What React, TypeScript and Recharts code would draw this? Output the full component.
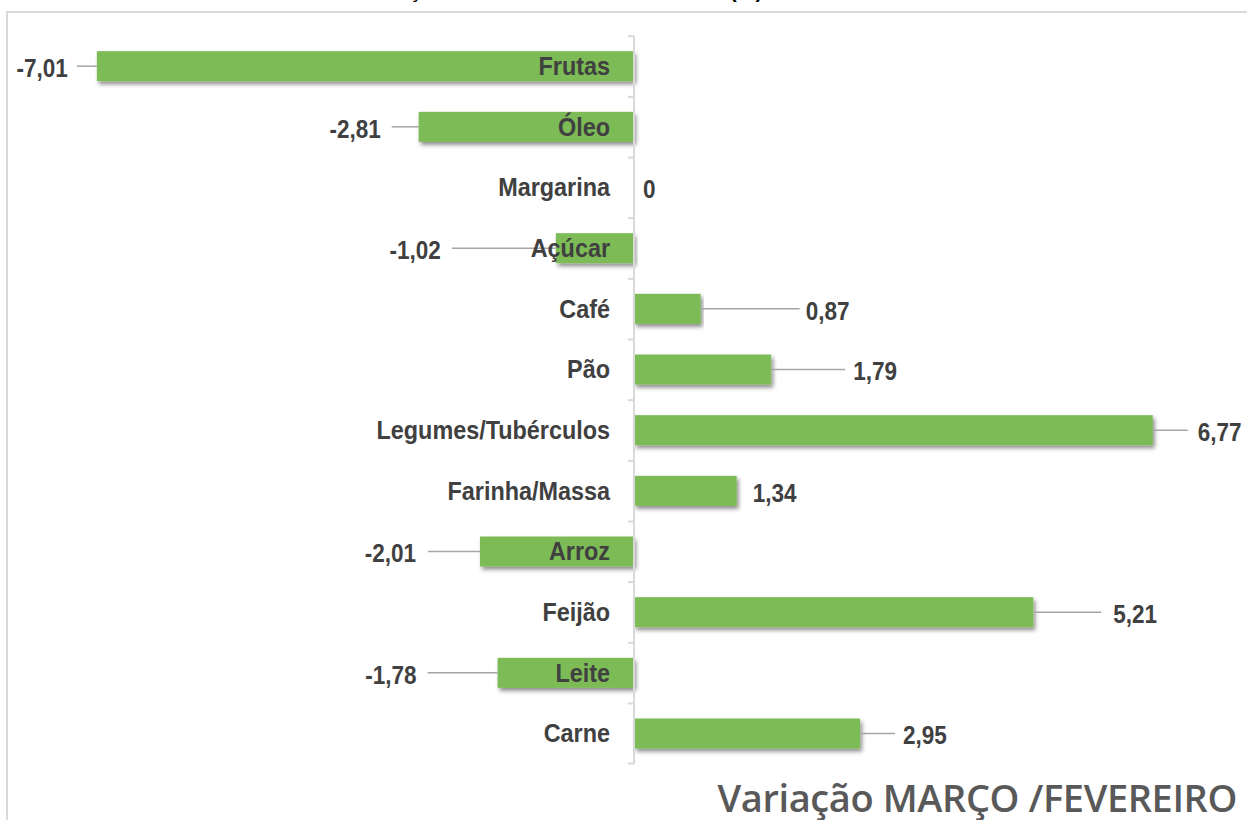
import { BarChart, Bar, XAxis, YAxis, ReferenceLine } from "recharts";

const categories = [
  "Frutas",
  "Óleo",
  "Margarina",
  "Açúcar",
  "Café",
  "Pão",
  "Legumes/Tubérculos",
  "Farinha/Massa",
  "Arroz",
  "Feijão",
  "Leite",
  "Carne",
];
const variation = [-7.01, -2.81, 0, -1.02, 0.87, 1.79, 6.77, 1.34, -2.01, 5.21, -1.78, 2.95];

// where the data labels were dragged to (px from the bar end) and their leader lines
const labelOffset = [29, 38, 9, 115, 105, 82, 45, 16, 64, 80, 81, 43];
const leaderLen = [20, 27, 0, 104, 99, 74, 35, 0, 52, 68, 70, 35];

const xDomain = [-8, 8];

const data = categories.map((name, i) => ({ name, value: variation[i] }));

const FONT = "'Liberation Sans', Arial, sans-serif";
const TEXT = "#404040";
const AXIS = "#d9d9d9";

const fmt = (v: number) => (v === 0 ? "0" : v.toFixed(2).replace(".", ","));

// narrow bold label, like the condensed Arial in the original
function Label({ x, y, anchor, size, children }: any) {
  return (
    <g transform={`translate(${x},${y}) scale(0.9,1)`}>
      <text
        x={0}
        y={0}
        textAnchor={anchor}
        dominantBaseline="central"
        fontFamily={FONT}
        fontWeight="bold"
        fontSize={size}
        fill={TEXT}
      >
        {children}
      </text>
    </g>
  );
}

function BarShape(props: any) {
  const { x, y, width, height, index } = props;
  const v = variation[index];
  const left = Math.min(x, x + width);
  const right = Math.max(x, x + width);
  const zeroX = v < 0 ? right : left;
  const cy = y + height / 2;
  const bandH = height * 2;
  const bandTop = cy - bandH / 2;
  const isLast = index === categories.length - 1;
  const end = v < 0 ? left : right;
  const dir = v < 0 ? -1 : 1;
  const off = labelOffset[index];
  const lead = leaderLen[index];
  return (
    <g>
      <line x1={zeroX - 6} x2={zeroX} y1={bandTop} y2={bandTop} stroke={AXIS} strokeWidth={2} />
      {isLast && (
        <line x1={zeroX - 6} x2={zeroX} y1={bandTop + bandH} y2={bandTop + bandH} stroke={AXIS} strokeWidth={2} />
      )}
      {right - left > 0 && (
        <rect x={left} y={y} width={right - left} height={height} fill="#7cbb56" filter="url(#barShadow)" />
      )}
      {lead > 0 && (
        <line x1={end} x2={end + dir * lead} y1={cy} y2={cy} stroke="#a6a6a6" strokeWidth={1.5} />
      )}
      <Label x={zeroX - 24} y={cy} anchor="end" size={26}>
        {categories[index]}
      </Label>
      <Label x={end + dir * off} y={cy + 2} anchor={v < 0 ? "end" : "start"} size={25}>
        {fmt(v)}
      </Label>
    </g>
  );
}

export default function App() {
  return (
    <div style={{ position: "absolute", left: 0, top: 0, width: 1247, height: 820, overflow: "hidden", background: "#fff" }}>
      <svg width={0} height={0} style={{ position: "absolute" }}>
        <defs>
          <filter id="barShadow" x="-5%" y="-30%" width="110%" height="170%">
            <feDropShadow dx={2} dy={3} stdDeviation={2} floodColor="#000" floodOpacity={0.45} />
          </filter>
        </defs>
      </svg>
      <svg width={1247} height={820} style={{ position: "absolute", left: 0, top: 0 }}>
        <rect x={7} y={12} width={1300} height={900} fill="none" stroke={AXIS} strokeWidth={2} />
        <text x={553} y={-2} textAnchor="middle" fontFamily={FONT} fontWeight="bold" fontSize={21} fill="#000">
          VARIAÇÃO MENSAL DOS PRODUTOS (%)
        </text>
        <text
          x={1237}
          y={812}
          textAnchor="end"
          fontFamily="'Open Sans', sans-serif"
          fontWeight={600}
          fontSize={38}
          letterSpacing={-0.4}
          fill="#595959"
        >
          Variação MARÇO /FEVEREIRO
        </text>
      </svg>
      <div style={{ position: "absolute", left: 0, top: 0 }}>
        <BarChart
          width={1247}
          height={820}
          data={data}
          layout="vertical"
          margin={{ top: 36, right: 0, bottom: 56, left: 21 }}
          barCategoryGap="25%"
        >
          <XAxis type="number" domain={xDomain} hide />
          <YAxis type="category" dataKey="name" hide />
          <ReferenceLine x={0} stroke={AXIS} strokeWidth={2} />
          <Bar dataKey="value" isAnimationActive={false} shape={BarShape} />
        </BarChart>
      </div>
    </div>
  );
}
